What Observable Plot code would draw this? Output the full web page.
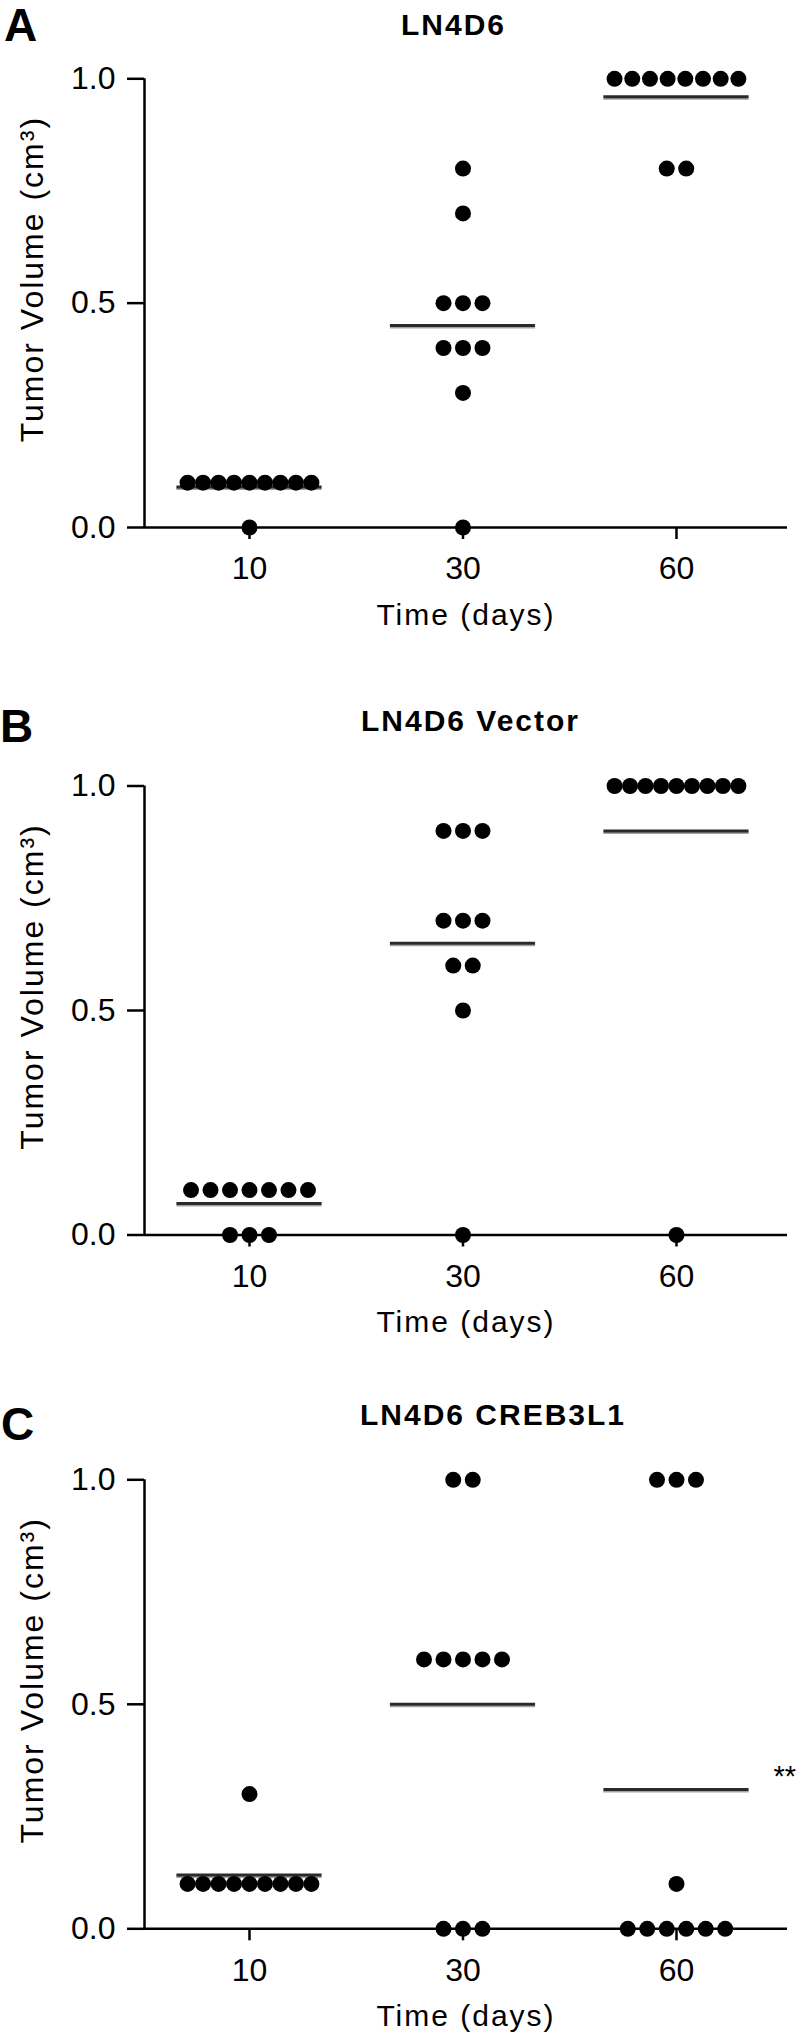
<!DOCTYPE html>
<html>
<head>
<meta charset="utf-8">
<script src="https://cdn.jsdelivr.net/npm/d3@7"></script>
<script src="https://cdn.jsdelivr.net/npm/@observablehq/plot@0.6"></script>
<style>
  body { margin: 0; background: #fff; }
  #page { position: relative; width: 800px; height: 2036px; overflow: hidden; background: #fff;
          font-family: "Liberation Sans", Arial, Helvetica, sans-serif; color: #000; }
  .letter { position: absolute; font-weight: bold; font-size: 46px; line-height: 46px; white-space: nowrap; }
  .title { position: absolute; width: 400px; text-align: center; font-weight: bold; font-size: 30px;
           line-height: 30px; letter-spacing: 2px; white-space: nowrap; }
  .chart { position: absolute; left: 0; }
  .chart svg g[aria-label="text"]:not([font-size="29"]) text { letter-spacing: 2px; }
</style>
</head>
<body>
<div id="page"></div>
<script>
// ---- data ----
const days = [10, 30, 60];
const xTitle = "Time (days)";
const yTitle = "Tumor Volume (cm³)";
const yTicks = [0, 0.5, 1.0];
const panelLetters = ["A", "B", "C"];
const panelTitles = ["LN4D6", "LN4D6 Vector", "LN4D6 CREB3L1"];
const significance = ["", "", "**"];

// LN4D6
const ln4d6_day10 = [0.1, 0.1, 0.1, 0.1, 0.1, 0.1, 0.1, 0.1, 0.1, 0.0];
const ln4d6_day30 = [0.8, 0.7, 0.5, 0.5, 0.5, 0.4, 0.4, 0.4, 0.3, 0.0];
const ln4d6_day60 = [1.0, 1.0, 1.0, 1.0, 1.0, 1.0, 1.0, 1.0, 0.8, 0.8];
// LN4D6 Vector
const vector_day10 = [0.1, 0.1, 0.1, 0.1, 0.1, 0.1, 0.1, 0.0, 0.0, 0.0];
const vector_day30 = [0.9, 0.9, 0.9, 0.7, 0.7, 0.7, 0.6, 0.6, 0.5, 0.0];
const vector_day60 = [1.0, 1.0, 1.0, 1.0, 1.0, 1.0, 1.0, 1.0, 1.0, 0.0];
// LN4D6 CREB3L1
const creb_day10 = [0.3, 0.1, 0.1, 0.1, 0.1, 0.1, 0.1, 0.1, 0.1, 0.1];
const creb_day30 = [1.0, 1.0, 0.6, 0.6, 0.6, 0.6, 0.6, 0.0, 0.0, 0.0];
const creb_day60 = [1.0, 1.0, 1.0, 0.1, 0.0, 0.0, 0.0, 0.0, 0.0, 0.0];

const panelGroups = [
  [ln4d6_day10, ln4d6_day30, ln4d6_day60],
  [vector_day10, vector_day30, vector_day60],
  [creb_day10, creb_day30, creb_day60]
];

// ---- layout (page pixels) ----
const layouts = [
  {svgTop: 50,   svgHeight: 600, marginTop: 28.3, marginBottom: 123,
   letterTop: 1.6, letterLeft: 4, titleCenter: 453.5, titleTop: 9.6},
  {svgTop: 750,  svgHeight: 600, marginTop: 35.5, marginBottom: 115.5,
   letterTop: 703.1, letterLeft: 0, titleCenter: 470.5, titleTop: 706.3},
  {svgTop: 1450, svgHeight: 586, marginTop: 29.3, marginBottom: 107.7,
   letterTop: 1401.1, letterLeft: 1, titleCenter: 493, titleTop: 1399.6}
];

const X_DOMAIN = [-0.4918, 2.52];   // category index units (day slots)
const DOT_GAP = 0.0913;             // spacing of side-by-side dots, in slot units
const ROW_SPAN = 0.58;              // widest allowed row of dots
const MEAN_HALF = 0.34;             // half length of mean line

function scatterLayout(groups) {
  const out = [];
  groups.forEach((vals, i) => {
    for (const [v, arr] of d3.group(vals, d => d)) {
      const n = arr.length;
      const gap = n > 1 ? Math.min(DOT_GAP, ROW_SPAN / (n - 1)) : 0;
      arr.forEach((_, k) => out.push({slot: i, value: v, pos: i + (k - (n - 1) / 2) * gap}));
    }
  });
  return out;
}

const page = document.getElementById("page");
const FONT = '"Liberation Sans", Arial, Helvetica, sans-serif';

panelGroups.forEach((groups, p) => {
  const L = layouts[p];
  const dots = scatterLayout(groups);
  const means = groups.map((vals, i) => ({slot: i, mean: d3.mean(vals)}));

  const letter = document.createElement("div");
  letter.className = "letter";
  letter.style.top = L.letterTop + "px";
  letter.style.left = L.letterLeft + "px";
  letter.textContent = panelLetters[p];
  page.appendChild(letter);

  const title = document.createElement("div");
  title.className = "title";
  title.style.top = L.titleTop + "px";
  title.style.left = (L.titleCenter - 200) + "px";
  title.textContent = panelTitles[p];
  page.appendChild(title);

  const marks = [
    Plot.ruleX([X_DOMAIN[0]], {y1: 0, y2: 1, stroke: "black", strokeWidth: 2.5}),
    Plot.ruleY([0], {stroke: "black", strokeWidth: 2.5}),
    Plot.axisY({ticks: yTicks, tickFormat: d3.format(".1f"), tickSize: 17, tickPadding: 12,
                fontSize: 32, strokeWidth: 2.5, label: null}),
    Plot.axisX({ticks: [0, 1, 2], tickFormat: i => days[i], tickSize: 12, tickPadding: 17,
                fontSize: 32, strokeWidth: 2.5, label: null}),
    Plot.ruleY(means, {y: "mean", x1: d => d.slot - MEAN_HALF, x2: d => d.slot + MEAN_HALF,
                       stroke: "#a3a3a3", strokeWidth: 2, dy: 2}),
    Plot.ruleY(means, {y: "mean", x1: d => d.slot - MEAN_HALF, x2: d => d.slot + MEAN_HALF,
                       stroke: "#2a2a2a", strokeWidth: 3}),
    Plot.dot(dots, {x: "pos", y: "value", r: 8, fill: "black"}),
    Plot.text([xTitle], {frameAnchor: "bottom", lineAnchor: "bottom", textAnchor: "middle",
                         dy: 97, fontSize: 30}),
    Plot.text([yTitle], {frameAnchor: "left", rotate: -90, lineAnchor: "bottom", textAnchor: "middle",
                         dx: -102, dy: -24, fontSize: 32})
  ];
  if (significance[p]) {
    marks.push(Plot.text([significance[p]], {frameAnchor: "right", y: [means[2].mean],
      textAnchor: "start", dx: -14, dy: -12.6, fontSize: 29}));
  }

  const chart = Plot.plot({
    width: 800,
    height: L.svgHeight,
    marginLeft: 144,
    marginRight: 13,
    marginTop: L.marginTop,
    marginBottom: L.marginBottom,
    style: {background: "white", color: "black", fontFamily: FONT, overflow: "visible"},
    x: {type: "linear", domain: X_DOMAIN},
    y: {type: "linear", domain: [0, 1]},
    marks
  });
  const wrap = document.createElement("div");
  wrap.className = "chart";
  wrap.style.top = L.svgTop + "px";
  wrap.appendChild(chart);
  page.appendChild(wrap);
});
</script>
</body>
</html>
